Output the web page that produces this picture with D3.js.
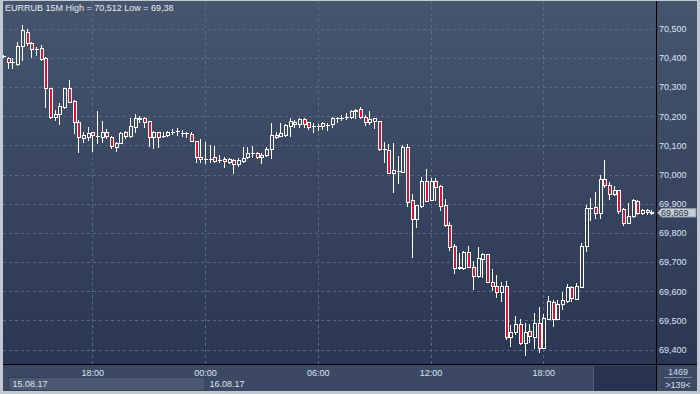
<!DOCTYPE html>
<html>
<head>
<meta charset="utf-8">
<script src="https://cdnjs.cloudflare.com/ajax/libs/d3/7.8.5/d3.min.js"></script>
<style>
  body { margin: 0; background: #c3c9d2; }
  svg { display: block; font-family: "Liberation Sans", Arial, sans-serif; }
</style>
</head>
<body>
<div id="chart"></div>
<script>
// EURRUB, 15 minute bars, first bar 15.08.17 13:15
const firstBar = new Date(2017, 7, 15, 13, 15);

const opens = [70.406,70.400,70.387,70.378,70.441,70.489,70.452,70.430,70.432,70.398,
  70.295,70.198,70.206,70.232,70.295,70.252,70.179,70.126,70.130,70.145,
  70.133,70.128,70.147,70.130,70.095,70.109,70.145,70.133,70.164,70.191,
  70.195,70.183,70.130,70.145,70.133,70.135,70.147,70.149,70.143,70.141,
  70.138,70.116,70.059,70.053,70.053,70.061,70.050,70.052,70.044,70.050,
  70.035,70.047,70.059,70.073,70.075,70.059,70.067,70.087,70.135,70.133,
  70.135,70.167,70.179,70.172,70.190,70.179,70.167,70.167,70.167,70.170,
  70.172,70.193,70.195,70.198,70.196,70.218,70.223,70.196,70.179,70.193,
  70.183,70.087,70.084,70.006,70.012,70.010,70.093,69.913,69.847,69.892,
  69.978,69.913,69.978,69.961,69.894,69.826,69.755,69.678,69.679,69.733,
  69.682,69.653,69.709,69.728,69.633,69.618,69.596,69.618,69.444,69.459,
  69.487,69.422,69.464,69.444,69.490,69.406,69.505,69.562,69.504,69.555,
  69.568,69.616,69.573,69.616,69.756,69.884,69.888,69.867,69.984,69.964,
  69.932,69.947,69.881,69.835,69.858,69.910,69.867,69.878,69.873];

const highs = [70.410,70.403,70.400,70.454,70.512,70.499,70.455,70.438,70.444,70.402,
  70.297,70.221,70.244,70.296,70.324,70.255,70.187,70.145,70.164,70.146,
  70.218,70.183,70.156,70.132,70.112,70.147,70.149,70.193,70.206,70.202,
  70.198,70.183,70.149,70.145,70.145,70.149,70.155,70.158,70.153,70.147,
  70.145,70.116,70.121,70.110,70.101,70.098,70.067,70.059,70.056,70.052,
  70.056,70.095,70.095,70.099,70.078,70.075,70.095,70.178,70.147,70.178,
  70.172,70.193,70.187,70.193,70.193,70.181,70.175,70.173,70.181,70.178,
  70.198,70.198,70.204,70.210,70.221,70.223,70.232,70.204,70.218,70.193,
  70.183,70.112,70.104,70.109,70.063,70.101,70.105,69.932,69.896,69.990,
  70.019,69.987,69.987,69.964,69.915,69.838,69.762,69.730,69.738,69.755,
  69.704,69.750,69.730,69.728,69.676,69.656,69.633,69.635,69.484,69.515,
  69.505,69.492,69.487,69.524,69.545,69.521,69.584,69.570,69.570,69.596,
  69.625,69.619,69.629,69.764,69.896,69.918,69.941,69.998,70.050,69.975,
  69.962,69.947,69.884,69.901,69.915,69.913,69.881,69.881,69.878];

const lows = [70.403,70.366,70.364,70.375,70.392,70.444,70.404,70.410,70.392,70.232,
  70.195,70.187,70.172,70.227,70.249,70.141,70.076,70.111,70.118,70.082,
  70.107,70.112,70.124,70.090,70.082,70.107,70.124,70.130,70.147,70.181,
  70.164,70.098,70.090,70.095,70.128,70.133,70.138,70.135,70.132,70.130,
  70.116,70.044,70.044,70.038,70.044,70.044,70.042,70.027,70.038,70.004,
  70.029,70.044,70.056,70.059,70.056,70.040,70.063,70.056,70.124,70.133,
  70.132,70.133,70.164,70.164,70.164,70.155,70.147,70.153,70.155,70.153,
  70.164,70.181,70.187,70.189,70.193,70.193,70.193,70.170,70.173,70.158,
  70.084,70.044,70.004,69.941,69.970,70.010,69.892,69.718,69.821,69.890,
  69.910,69.913,69.913,69.878,69.824,69.741,69.664,69.675,69.675,69.682,
  69.607,69.648,69.648,69.633,69.604,69.581,69.568,69.435,69.413,69.453,
  69.418,69.380,69.427,69.404,69.391,69.404,69.505,69.482,69.504,69.538,
  69.564,69.568,69.573,69.616,69.739,69.844,69.850,69.850,69.958,69.915,
  69.930,69.867,69.827,69.835,69.855,69.865,69.865,69.865,69.865];

const closes = [70.406,70.385,70.387,70.440,70.495,70.450,70.430,70.430,70.395,70.295,
  70.198,70.206,70.235,70.295,70.250,70.179,70.130,70.135,70.141,70.135,
  70.133,70.147,70.133,70.099,70.107,70.143,70.133,70.167,70.193,70.195,
  70.179,70.128,70.145,70.130,70.133,70.145,70.147,70.149,70.143,70.141,
  70.116,70.059,70.053,70.053,70.053,70.047,70.050,70.045,70.052,70.035,
  70.050,70.056,70.075,70.073,70.059,70.067,70.087,70.135,70.128,70.143,
  70.170,70.183,70.172,70.190,70.172,70.164,70.167,70.167,70.178,70.170,
  70.193,70.193,70.195,70.198,70.218,70.220,70.198,70.181,70.189,70.183,
  70.087,70.087,70.006,70.015,70.012,70.093,69.907,69.847,69.896,69.978,
  69.910,69.978,69.958,69.892,69.827,69.753,69.679,69.682,69.733,69.682,
  69.653,69.713,69.728,69.633,69.618,69.598,69.618,69.444,69.459,69.487,
  69.422,69.459,69.448,69.490,69.404,69.507,69.566,69.504,69.556,69.570,
  69.613,69.576,69.619,69.755,69.884,69.884,69.867,69.984,69.964,69.932,
  69.947,69.876,69.835,69.858,69.913,69.867,69.878,69.870,69.869];

const yTicks = [69.4, 69.5, 69.6, 69.7, 69.8, 69.9, 70.0, 70.1, 70.2, 70.3, 70.4, 70.5];
const dayLabels = ["15.08.17", "16.08.17"];
const title = "EURRUB 15M High = 70,512 Low = 69,38";
const lastPrice = 69.869;
const totalBars = "1469";
const shownBars = ">139<";

const W = 700, H = 394;
const plot = {left: 3, right: 656, top: 1, bottom: 364};

const bars = opens.map((o, i) => ({
  t: new Date(firstBar.getTime() + i * 15 * 60000),
  o: o, h: highs[i], l: lows[i], c: closes[i]
}));

// 6 hours = ~112.75px on the reference
const x = d3.scaleTime()
  .domain([new Date(2017, 7, 15, 18), new Date(2017, 7, 16, 18)])
  .range([92.3, 543.3]);
const y = d3.scaleLinear().domain([69.4, 70.5]).range([349.6, 28.6]);

const ru = d3.formatLocale({decimal: ",", thousands: " ", grouping: [3], currency: ["", ""]});
const fmt3 = ru.format(".3f");

const svg = d3.select("#chart").append("svg")
  .attr("width", W).attr("height", H);

const defs = svg.append("defs");
const grad = defs.append("linearGradient").attr("id", "bg")
  .attr("gradientUnits", "userSpaceOnUse")
  .attr("x1", 0).attr("y1", plot.top).attr("x2", 0).attr("y2", plot.bottom);
grad.append("stop").attr("offset", "0%").attr("stop-color", "#46556e");
grad.append("stop").attr("offset", "100%").attr("stop-color", "#2a3754");
defs.append("clipPath").attr("id", "clip").append("rect")
  .attr("x", plot.left).attr("y", plot.top)
  .attr("width", plot.right - plot.left).attr("height", plot.bottom - plot.top);

// frame + panels
svg.append("rect").attr("width", W).attr("height", H).attr("fill", "#c3c9d2");
svg.append("rect").attr("x", plot.left).attr("y", plot.top)
  .attr("width", 697 - plot.left).attr("height", plot.bottom - plot.top)
  .attr("fill", "url(#bg)");
svg.append("rect").attr("x", plot.left).attr("y", plot.bottom)
  .attr("width", 697 - plot.left).attr("height", 391 - plot.bottom)
  .attr("fill", "#3c4965");
svg.append("rect").attr("x", 593).attr("y", 366).attr("width", 63).attr("height", 25)
  .attr("fill", "#273450");
svg.append("line").attr("x1", 593.5).attr("x2", 593.5).attr("y1", 366).attr("y2", 391)
  .attr("stroke", "#4d5a74");

// date box
svg.append("rect").attr("x", 8.5).attr("y", 377.5).attr("width", 196.5).attr("height", 13)
  .attr("fill", "#4b5872").attr("stroke", "#34405a");

// grid
const grid = svg.append("g").attr("stroke", "#5a6987").attr("stroke-dasharray", "3,3")
  .attr("shape-rendering", "crispEdges");
grid.selectAll(".hg").data(yTicks).join("line")
  .attr("x1", plot.left).attr("x2", plot.right)
  .attr("y1", d => Math.round(y(d)) + 0.5).attr("y2", d => Math.round(y(d)) + 0.5);

const timeTicks = d3.timeHour.every(6).range(x.invert(plot.left), x.invert(plot.right));
grid.selectAll(".vg").data(timeTicks).join("line")
  .attr("x1", d => Math.round(x(d)) + 0.5).attr("x2", d => Math.round(x(d)) + 0.5)
  .attr("y1", plot.top).attr("y2", plot.bottom);

// separators
svg.append("line").attr("x1", plot.right + 0.5).attr("x2", plot.right + 0.5)
  .attr("y1", plot.top).attr("y2", 391).attr("stroke", "#000");
svg.append("line").attr("x1", plot.left).attr("x2", 697)
  .attr("y1", plot.bottom + 0.5).attr("y2", plot.bottom + 0.5).attr("stroke", "#000");

// candles
const cg = svg.append("g").attr("clip-path", "url(#clip)").attr("shape-rendering", "crispEdges");
bars.forEach(d => {
  const cx = Math.round(x(d.t) + 1);
  const yo = y(d.o), yc = y(d.c);
  const top = Math.round(Math.min(yo, yc)), bot = Math.round(Math.max(yo, yc));
  const yh = Math.round(y(Math.max(d.h, d.o, d.c))), yl = Math.round(y(Math.min(d.l, d.o, d.c)));
  const wx = cx - 0.5;
  if (yh < top) cg.append("line").attr("x1", wx).attr("x2", wx).attr("y1", yh).attr("y2", top)
    .attr("stroke", "#fff");
  if (yl > bot) cg.append("line").attr("x1", wx).attr("x2", wx).attr("y1", bot).attr("y2", yl + 1)
    .attr("stroke", "#fff");
  if (bot - top < 1) {
    cg.append("line").attr("x1", cx - 2).attr("x2", cx + 2)
      .attr("y1", top + 0.5).attr("y2", top + 0.5).attr("stroke", "#fff");
  } else {
    cg.append("rect").attr("x", cx - 1.5).attr("y", top + 0.5)
      .attr("width", 3).attr("height", bot - top)
      .attr("fill", d.c < d.o ? "#dc1230" : "url(#bg)")
      .attr("stroke", "#fff");
  }
});

// y axis
const yAxis = svg.append("g").attr("transform", "translate(659,0)")
  .call(d3.axisRight(y).tickValues(yTicks).tickFormat(fmt3).tickSize(0).tickPadding(0));
yAxis.select(".domain").remove();
yAxis.selectAll("text").attr("fill", "#dde4f0").attr("font-size", 9)
  .attr("font-family", "Liberation Sans, Arial, sans-serif");

// x axis
const xAxis = svg.append("g").attr("transform", `translate(0,${plot.bottom})`)
  .call(d3.axisBottom(x).tickValues(timeTicks).tickFormat(d3.timeFormat("%H:%M"))
    .tickSize(0).tickPadding(5.5));
xAxis.select(".domain").remove();
xAxis.selectAll("text").attr("fill", "#dde4f0").attr("font-size", 9)
  .attr("font-family", "Liberation Sans, Arial, sans-serif");

// day labels
const dayStarts = d3.timeDay.range(d3.timeDay.floor(x.invert(plot.left)), x.invert(plot.right));
svg.selectAll(".day").data(dayStarts).join("text")
  .attr("x", (d, i) => i === 0 ? 12.5 : x(d) + 4.5).attr("y", 386.7)
  .attr("fill", "#dde4f0").attr("font-size", 9)
  .text((d, i) => dayLabels[i]);

// title
svg.append("text").attr("x", 5).attr("y", 11).attr("fill", "#e6ebf3").attr("font-size", 9)
  .text(title);

// last price marker
const yl = y(lastPrice);
svg.append("path")
  .attr("d", `M657.5,${yl} L661.5,${yl - 4.3} L696,${yl - 4.3} L696,${yl + 4.3} L661.5,${yl + 4.3} Z`)
  .attr("fill", "#c9ced6").attr("stroke", "#8a94a5");
svg.append("text").attr("x", 661).attr("y", yl).attr("dy", "0.35em")
  .attr("fill", "#24304a").attr("font-size", 9).text(fmt3(lastPrice));

// bar counters
svg.append("text").attr("x", 678).attr("y", 375).attr("text-anchor", "middle")
  .attr("fill", "#d5dce8").attr("font-size", 9).text(totalBars);
svg.append("line").attr("x1", 664).attr("x2", 692).attr("y1", 377.5).attr("y2", 377.5)
  .attr("stroke", "#7d8aa2");
svg.append("text").attr("x", 678).attr("y", 387.5).attr("text-anchor", "middle")
  .attr("fill", "#d5dce8").attr("font-size", 9).text(shownBars);
</script>
</body>
</html>
